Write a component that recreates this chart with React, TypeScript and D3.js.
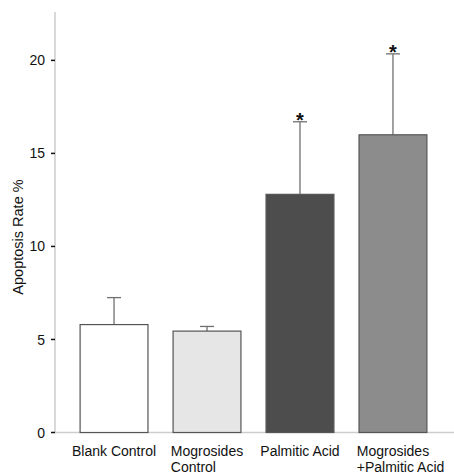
import React, { useRef, useEffect } from 'react';
import * as d3 from 'd3';

const GROUPS = ['Blank Control', 'Mogrosides Control', 'Palmitic Acid', 'Mogrosides +Palmitic Acid'];
const LABEL_LINES = [['Blank Control'], ['Mogrosides', 'Control'], ['Palmitic Acid'], ['Mogrosides', '+Palmitic Acid']];
const MEANS = [5.8, 5.45, 12.8, 16.0];
const ERRORS = [1.45, 0.25, 3.9, 4.35];
const SIGNIFICANT = [false, false, true, true];
const FILLS = ['#ffffff', '#e6e6e6', '#4d4d4d', '#8c8c8c'];
const Y_TICKS = [0, 5, 10, 15, 20];

export default function App() {
  const ref = useRef<SVGSVGElement>(null);

  useEffect(() => {
    if (!ref.current) return;
    const svg = d3.select(ref.current);
    svg.selectAll('*').remove();

    const W = 454, H = 475;
    const margin = { top: 12, right: 2, bottom: 42.5, left: 55 };
    const font = 'Liberation Sans, Arial, sans-serif';

    const x = d3.scaleBand<string>()
      .domain(GROUPS)
      .range([margin.left, W - margin.right])
      .paddingInner(0.27)
      .paddingOuter(0.27);
    const y = d3.scaleLinear().domain([0, 22.6]).range([H - margin.bottom, margin.top]);

    svg.attr('width', W).attr('height', H);

    // axes lines
    svg.append('line')
      .attr('x1', margin.left).attr('x2', margin.left)
      .attr('y1', y(22.6)).attr('y2', y(0))
      .attr('stroke', '#cdcdcd').attr('stroke-width', 1.5);
    svg.append('line')
      .attr('x1', margin.left).attr('x2', W)
      .attr('y1', y(0)).attr('y2', y(0))
      .attr('stroke', '#cdcdcd').attr('stroke-width', 1.5);

    // y ticks
    Y_TICKS.forEach(t => {
      svg.append('line')
        .attr('x1', margin.left - 4).attr('x2', margin.left)
        .attr('y1', y(t)).attr('y2', y(t))
        .attr('stroke', '#111').attr('stroke-width', 1.5);
      svg.append('text')
        .attr('x', margin.left - 10).attr('y', y(t))
        .attr('dy', '0.36em')
        .attr('text-anchor', 'end')
        .attr('font-family', font).attr('font-size', 14)
        .attr('fill', '#111')
        .text(t);
    });

    svg.append('text')
      .attr('transform', 'rotate(-90)')
      .attr('x', -237).attr('y', 23)
      .attr('text-anchor', 'middle')
      .attr('font-family', font).attr('font-size', 14.5)
      .attr('fill', '#111')
      .text('Apoptosis Rate %');

    // bars, error bars
    GROUPS.forEach((g, i) => {
      const bx = x(g)!;
      const bw = x.bandwidth();
      const cx = bx + bw / 2;
      const top = MEANS[i] + ERRORS[i];

      svg.append('line')
        .attr('x1', cx).attr('x2', cx)
        .attr('y1', y(MEANS[i])).attr('y2', y(top))
        .attr('stroke', '#707070').attr('stroke-width', 1.3);
      svg.append('line')
        .attr('x1', cx - 7).attr('x2', cx + 7)
        .attr('y1', y(top)).attr('y2', y(top))
        .attr('stroke', '#707070').attr('stroke-width', 1.3);

      svg.append('rect')
        .attr('x', bx).attr('y', y(MEANS[i]))
        .attr('width', bw).attr('height', y(0) - y(MEANS[i]))
        .attr('fill', FILLS[i])
        .attr('stroke', '#555').attr('stroke-width', 1.2);

      if (SIGNIFICANT[i]) {
        svg.append('text')
          .attr('x', cx).attr('y', y(top) + 5)
          .attr('text-anchor', 'middle')
          .attr('font-family', font).attr('font-size', 20).attr('font-weight', 'bold')
          .attr('fill', '#111')
          .text('*');
      }

      // category label: first line centred, following lines left-aligned with it
      const lines = LABEL_LINES[i];
      let sx = 0;
      lines.forEach((ln, j) => {
        const t = svg.append('text')
          .attr('font-family', font).attr('font-size', 14)
          .attr('fill', '#111')
          .attr('y', y(0) + 23 + 16 * j)
          .text(ln);
        if (j === 0) {
          const w = (t.node() as SVGTextElement).getComputedTextLength();
          sx = cx - w / 2;
        }
        t.attr('x', sx);
      });
    });
  }, []);

  return <svg ref={ref} style={{ position: 'absolute', left: 0, top: 0 }} />;
}
